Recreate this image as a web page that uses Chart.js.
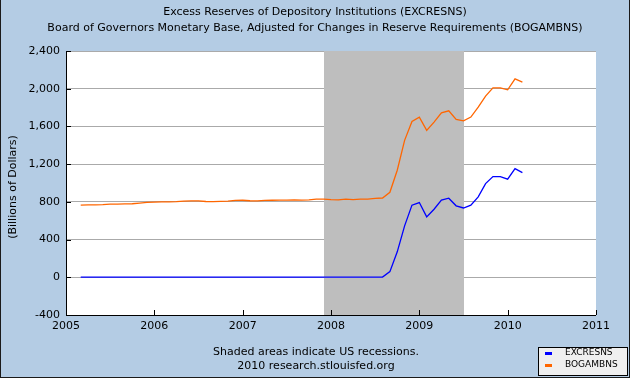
<!DOCTYPE html>
<html>
<head>
<meta charset="utf-8">
<script src="https://cdn.jsdelivr.net/npm/chart.js@4.4.1/dist/chart.umd.min.js"></script>
<style>
  html, body { margin: 0; padding: 0; background: #B4CCE4; }
</style>
</head>
<body>
<canvas id="grafico" width="630" height="378"></canvas>
<script>
// monthly observations, Mar 2005 - Mar 2010 (billions of dollars)
const months = [
  '2005-03','2005-04','2005-05','2005-06','2005-07','2005-08','2005-09','2005-10','2005-11','2005-12',
  '2006-01','2006-02','2006-03','2006-04','2006-05','2006-06','2006-07','2006-08','2006-09','2006-10','2006-11','2006-12',
  '2007-01','2007-02','2007-03','2007-04','2007-05','2007-06','2007-07','2007-08','2007-09','2007-10','2007-11','2007-12',
  '2008-01','2008-02','2008-03','2008-04','2008-05','2008-06','2008-07','2008-08','2008-09','2008-10','2008-11','2008-12',
  '2009-01','2009-02','2009-03','2009-04','2009-05','2009-06','2009-07','2009-08','2009-09','2009-10','2009-11','2009-12',
  '2010-01','2010-02','2010-03'
];
const excresns = [
  2, 2, 2, 2, 2, 2, 2, 2, 2, 2,
  2, 2, 2, 2, 2, 2, 2, 2, 2, 2, 2, 2,
  2, 2, 2, 2, 2, 2, 2, 2, 2, 2, 2, 2,
  2, 2, 2, 2, 2, 2, 2, 2, 60, 270, 545, 765,
  793, 641, 722, 818, 839, 758, 735, 765, 853, 994, 1068, 1068,
  1040, 1152, 1110
];
const bogambns = [
  766, 767, 769, 770, 775, 777, 779, 780, 787, 795,
  797, 799, 800, 802, 808, 810, 811, 804, 803, 805, 808, 815,
  817, 812, 811, 815, 817, 818, 819, 820, 819, 821, 828, 829,
  823, 822, 828, 823, 828, 830, 838, 841, 902, 1135, 1452, 1653,
  1699, 1558, 1646, 1744, 1766, 1674, 1660, 1699, 1804, 1921, 2009, 2009,
  1988, 2104, 2069
];
const yTicks = [-400, 0, 400, 800, 1200, 1600, 2000, 2400];
const xTicks = [2005, 2006, 2007, 2008, 2009, 2010, 2011];
const recessions = [['2007-12', '2009-07']];
const seriesNames = ['EXCRESNS', 'BOGAMBNS'];
const titleLines = [
  'Excess Reserves of Depository Institutions (EXCRESNS)',
  'Board of Governors Monetary Base, Adjusted for Changes in Reserve Requirements (BOGAMBNS)'
];
const footLines = ['Shaded areas indicate US recessions.', '2010 research.stlouisfed.org'];
const yTitle = '(Billions of Dollars)';

const FONT = '"DejaVu Sans", Verdana, sans-serif';
const BG = '#B4CCE4';
const colors = ['#0000FF', '#FF6600'];

function toYear(m) {
  const p = m.split('-');
  return Number(p[0]) + (Number(p[1]) - 1) / 12;
}

const decor = {
  id: 'decor',
  beforeDraw(chart) {
    const ctx = chart.ctx, a = chart.chartArea;
    ctx.save();
    ctx.fillStyle = BG;
    ctx.fillRect(0, 0, chart.width, chart.height);
    ctx.fillStyle = '#FFFFFF';
    ctx.fillRect(a.left, a.top, a.right - a.left, a.bottom - a.top);
    ctx.restore();
  },
  beforeDatasetsDraw(chart) {
    const ctx = chart.ctx, a = chart.chartArea, xs = chart.scales.x;
    ctx.save();
    ctx.fillStyle = '#BEBEBE';
    recessions.forEach(r => {
      const x1 = Math.round(xs.getPixelForValue(toYear(r[0])));
      const x2 = Math.round(xs.getPixelForValue(toYear(r[1])));
      ctx.fillRect(x1, a.top, x2 - x1, a.bottom - a.top);
    });
    ctx.restore();
  },
  afterDatasetsDraw(chart) {
    const ctx = chart.ctx, a = chart.chartArea;
    const xs = chart.scales.x, ys = chart.scales.y;
    ctx.save();
    ctx.fillStyle = '#000';
    // axes
    ctx.fillRect(a.left, a.top, 1, a.bottom - a.top + 1);
    ctx.fillRect(a.left, a.bottom, a.right - a.left, 1);
    // tick marks pointing inward
    yTicks.forEach(v => {
      ctx.fillRect(a.left, Math.round(ys.getPixelForValue(v)), 5, 1);
    });
    xTicks.forEach(v => {
      ctx.fillRect(Math.round(xs.getPixelForValue(v)), a.bottom - 5, 1, 5);
    });

    // titles
    ctx.fillStyle = '#000';
    ctx.textAlign = 'center';
    ctx.textBaseline = 'middle';
    ctx.font = '11px ' + FONT;
    ctx.fillText(titleLines[0], 315, 12);
    ctx.fillText(titleLines[1], 315, 28);
    ctx.fillText(footLines[0], 316, 352);
    ctx.fillText(footLines[1], 316, 366);

    // y axis title
    ctx.save();
    ctx.translate(13, 187);
    ctx.rotate(-Math.PI / 2);
    ctx.fillText(yTitle, 0, 0);
    ctx.restore();

    // legend box
    ctx.fillStyle = '#EFEFEF';
    ctx.fillRect(538, 347, 89, 28);
    ctx.strokeStyle = '#000';
    ctx.lineWidth = 1;
    ctx.strokeRect(538.5, 347.5, 89, 28);
    ctx.font = '9px ' + FONT;
    ctx.textAlign = 'left';
    seriesNames.forEach((name, i) => {
      const y = 353 + i * 12;
      ctx.fillStyle = colors[i];
      ctx.fillRect(545, y - 1, 7, 3);
      ctx.fillStyle = '#000';
      ctx.fillText(name, 565, y);
    });

    // outer frame
    ctx.fillStyle = '#1A1A1A';
    ctx.fillRect(0, 0, 1, chart.height);
    ctx.fillRect(chart.width - 1, 0, 1, chart.height);
    ctx.fillRect(0, chart.height - 1, chart.width, 1);
    ctx.restore();
  }
};

const canvas = document.getElementById('grafico');
new Chart(canvas, {
  type: 'line',
  data: {
    datasets: [
      {
        label: seriesNames[0],
        data: months.map((m, i) => ({ x: toYear(m), y: excresns[i] })),
        borderColor: colors[0],
        borderWidth: 1.3,
        pointRadius: 0,
        tension: 0
      },
      {
        label: seriesNames[1],
        data: months.map((m, i) => ({ x: toYear(m), y: bogambns[i] })),
        borderColor: colors[1],
        borderWidth: 1.3,
        pointRadius: 0,
        tension: 0
      }
    ]
  },
  options: {
    responsive: false,
    animation: false,
    layout: { padding: { left: 0, right: 34, top: 51, bottom: 0 } },
    plugins: {
      legend: { display: false },
      title: { display: false },
      tooltip: { enabled: false }
    },
    scales: {
      x: {
        type: 'linear',
        min: 2005,
        max: 2011,
        afterBuildTicks: s => { s.ticks = xTicks.map(v => ({ value: v })); },
        afterFit: s => { s.height = 63; },
        grid: { display: false, drawTicks: false },
        border: { display: false },
        ticks: {
          callback: v => String(v),
          color: '#000',
          font: { family: FONT, size: 11 },
          padding: 5,
          maxRotation: 0,
          autoSkip: false
        }
      },
      y: {
        type: 'linear',
        min: -400,
        max: 2400,
        afterBuildTicks: s => { s.ticks = yTicks.map(v => ({ value: v })); },
        afterFit: s => { s.width = 66; },
        grid: { color: '#AAAAAA', drawTicks: false, lineWidth: 1 },
        border: { display: false },
        ticks: {
          callback: v => v.toLocaleString('en-US'),
          color: '#000',
          font: { family: FONT, size: 11 },
          padding: 6,
          autoSkip: false
        }
      }
    }
  },
  plugins: [decor]
});
</script>
</body>
</html>
